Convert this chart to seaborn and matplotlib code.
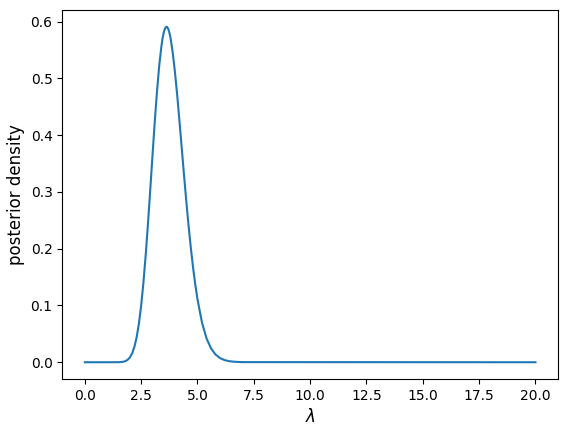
import matplotlib
matplotlib.use("Agg")
import pandas as pd
import matplotlib.pyplot as plt
import seaborn as sns

# lambda grid and posterior density
lam = [0.0, 1.0, 1.5, 1.6, 1.7, 1.8, 1.9, 2.0, 2.1, 2.2, 2.3, 2.4, 2.5, 2.6, 2.7, 2.8, 2.9,
       3.0, 3.1, 3.2, 3.3, 3.4, 3.45, 3.5, 3.55, 3.6, 3.625, 3.65, 3.7, 3.75, 3.8, 3.9,
       4.0, 4.1, 4.2, 4.3, 4.4, 4.5,
       4.6, 4.7, 4.8, 4.9, 5.0, 5.2, 5.4, 5.6, 5.8, 6.0, 6.2, 6.4, 6.6, 6.8, 7.0, 20.0]
density = [0.0, 0.0, 0.0001, 0.0003, 0.0008, 0.0020, 0.0043, 0.0085, 0.0156, 0.0271,
           0.0442, 0.0682, 0.1001, 0.1403, 0.1883, 0.2429, 0.3020,
           0.3627, 0.4219, 0.4757, 0.5220, 0.5571, 0.5705, 0.5804, 0.5871, 0.5904, 0.5909,
           0.5904, 0.5874, 0.5809, 0.5718, 0.5456,
           0.5107, 0.4700, 0.4245, 0.3776, 0.3303, 0.2848,
           0.2422, 0.2029, 0.1680, 0.1372, 0.1108, 0.0697, 0.0421, 0.0244, 0.0136, 0.0073,
           0.0038, 0.0019, 0.0010, 0.0005, 0.0002, 0.0]

df = pd.DataFrame({'lam': lam, 'density': density})

fig = plt.figure(figsize=(5.68, 4.34), dpi=100)
ax = fig.add_axes([0.1097, 0.1267, 0.8727, 0.8503])
sns.lineplot(data=df, x='lam', y='density', ax=ax, color='#1f77b4', linewidth=1.5)
ax.set_xticks([0, 2.5, 5, 7.5, 10, 12.5, 15, 17.5, 20])
ax.set_xlabel(r'$\lambda$', fontsize=12)
ax.set_ylabel('posterior density', fontsize=12)
fig.savefig('out.png', dpi=100)
